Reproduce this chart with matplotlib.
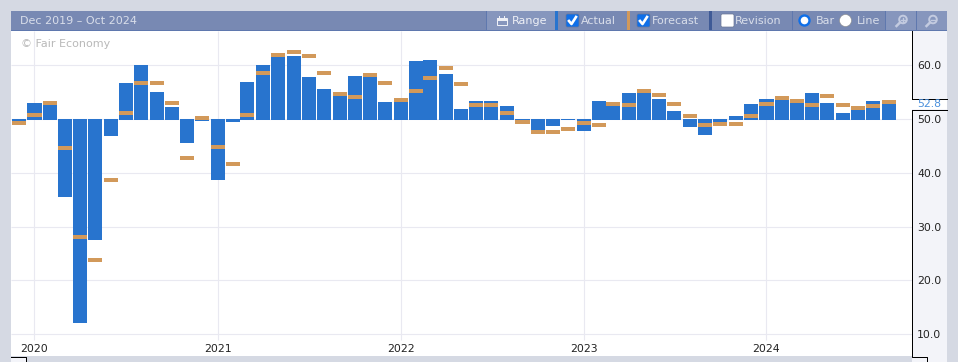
import matplotlib
matplotlib.use("Agg")
import matplotlib.pyplot as plt
import matplotlib.patches as mpatches
import pandas as pd

# Monthly values, Dec 2019 - Sep 2024
months = pd.date_range("2019-12-01", periods=58, freq="MS")
actual = [
    49.3,
    53.0, 52.7, 35.5, 12.1, 27.5, 46.8, 56.7, 60.0, 55.0, 52.2, 45.5, 49.6,
    38.7, 49.5, 56.9, 60.0, 61.5, 61.7, 57.8, 55.6, 54.3, 58.0, 57.8, 53.2,
    53.2, 60.8, 61.0, 58.4, 51.9, 53.3, 53.3, 52.4, 49.7, 47.8, 48.7, 49.8,
    47.8, 53.3, 52.4, 54.8, 54.8, 53.7, 51.5, 48.5, 47.0, 49.2, 50.6, 52.8,
    53.7, 53.5, 53.0, 54.8, 53.0, 51.1, 51.7, 53.3, 52.8,
]
forecast = [
    49.25,
    50.7, 53.0, 44.6, 28.1, 23.8, 38.7, 51.1, 56.7, 56.7, 53.0, 42.8, 50.2,
    44.8, 41.7, 50.7, 58.5, 61.9, 62.5, 61.7, 58.5, 54.6, 54.1, 58.2, 56.7,
    53.5, 55.2, 57.6, 59.5, 56.5, 52.6, 52.6, 51.1, 49.4, 47.6, 47.6, 48.1,
    49.3, 48.9, 52.8, 52.6, 55.2, 54.5, 52.8, 50.6, 48.9, 49.1, 49.1, 50.6,
    52.8, 53.9, 53.3, 52.6, 54.3, 52.6, 52.0, 52.4, 53.2,
]
y_ticks = [10, 20, 30, 40, 50, 60]
years = [2020, 2021, 2022, 2023, 2024]
last_value = "52.8"
date_range_label = "Dec 2019 \u2013 Oct 2024"

BLUE = "#2874ce"
ORANGE = "#d2995a"
GRID = "#e9e9f1"
BACK = "#d5d9e3"
PANEL = "#f3f4f9"
HEADER = "#7889b3"
HEADER_LIGHT = "#8696bd"
HEADER_TEXT = "#d9deea"

W, H = 958, 362
PX_PER_UNIT = 5.38
PX_PER_DAY = 732 / 1461
PT = 0.72  # one pixel in points


def y_at(px):
    return 50 - (px - 119) / PX_PER_UNIT


fig = plt.figure(figsize=(W / 100, H / 100), dpi=100, facecolor=BACK)

# page furniture underneath the plot
under = fig.add_axes([0, 0, 1, 1], zorder=0)
under.set_xlim(0, W)
under.set_ylim(H, 0)
under.axis("off")
under.add_patch(mpatches.Rectangle((912, 31), 35, 331, fc=PANEL, ec="none"))

# plot area
ax = fig.add_axes([11 / W, (H - 356) / H, (912 - 11) / W, (356 - 31) / H], zorder=1)
ax.set_facecolor("white")
jan_2020 = pd.Timestamp("2020-01-01")
ax.set_xlim(jan_2020 - pd.Timedelta(days=23.5 / PX_PER_DAY),
            jan_2020 + pd.Timedelta(days=(912 - 34.5) / PX_PER_DAY))
ax.set_ylim(y_at(356), y_at(31))
for side in ax.spines:
    ax.spines[side].set_visible(False)

year_dates = [pd.Timestamp(f"{y}-01-01") for y in years]
ax.hlines(y_ticks, ax.get_xlim()[0], ax.get_xlim()[1], color=GRID, lw=PT * 1.1, zorder=1)
ax.vlines(year_dates, y_at(340), y_at(31), color=GRID, lw=PT * 1.1, zorder=1)

bar_days = 28
for m, a, f in zip(months, actual, forecast):
    # positive bars sit a pixel under the 50 line
    bottom = 49.85 if a >= 50 else 50.0
    ax.bar(m, a - bottom, bottom=bottom, width=bar_days, color=BLUE, zorder=2)
    ax.bar(m, 0.74, bottom=f - 0.37, width=bar_days, color=ORANGE, zorder=3)

ax.set_xticks([])
ax.yaxis.tick_right()
ax.set_yticks(y_ticks, [f"{v:.1f}" for v in y_ticks])
ax.tick_params(axis="y", length=0, pad=3.6, labelsize=7.8, labelcolor="#222222")

for d, y in zip(year_dates, years):
    ax.text(d, y_at(349.5), str(y), ha="center", va="center", fontsize=7.8, color="#222222")
ax.text(21 / W, (H - 44) / H, "\u00a9 Fair Economy", transform=fig.transFigure,
        fontsize=8, color="#b9b9b9", va="center", ha="left")

# header, right hand labels and bottom strip, in pixel coordinates
top = fig.add_axes([0, 0, 1, 1], zorder=2)
top.set_xlim(0, W)
top.set_ylim(H, 0)
top.axis("off")
top.patch.set_alpha(0)


def rect(x0, y0, x1, y1, color):
    top.add_patch(mpatches.Rectangle((x0, y0), x1 - x0, y1 - y0, fc=color, ec="none"))


def label(x, text, color=HEADER_TEXT):
    top.text(x, 21, text, fontsize=8, color=color, va="center", ha="left")


def checkbox(x, checked):
    face = "#0f6fe8" if checked else "white"
    top.add_patch(mpatches.FancyBboxPatch((x + 1.5, 15.5), 10, 10,
                                          boxstyle="round,pad=1.5", fc=face, ec="#6b7796", lw=0.5))
    if checked:
        top.plot([x + 3, x + 5.5, x + 10], [21, 24, 17], color="white", lw=1.9)


rect(11, 11, 947, 30, HEADER)
rect(11, 30, 947, 31, "#5f78ae")
rect(487, 11, 555, 30, HEADER_LIGHT)
rect(555, 11, 558, 30, BLUE)
rect(627, 11, 630, 30, ORANGE)
rect(709, 11, 712, 30, "#3f5a96")
rect(886, 11, 947, 30, HEADER_LIGHT)
for x in [486, 792, 885, 916]:
    rect(x, 11, x + 1, 30, "#5f78ae")
label(20, date_range_label)
label(512, "Range", "#eef0f6")
label(581, "Actual")
label(652, "Forecast")
label(735, "Revision")
label(816, "Bar")
label(857, "Line")
checkbox(566, True)
checkbox(637, True)
checkbox(721, False)

# calendar icon
top.add_patch(mpatches.Rectangle((497, 18), 10, 7, fc="none", ec="#eef0f6", lw=PT))
rect(497, 18, 507, 21, "#eef0f6")
for x in [499, 504]:
    rect(x, 16, x + 1, 18, "#eef0f6")
# radio buttons
top.add_patch(mpatches.Circle((804.5, 20.5), 5, fc="white", ec="#0f6fe8", lw=1.7))
top.add_patch(mpatches.Circle((845.5, 20.5), 6, fc="white", ec="#8a8a8a", lw=0.4))
# zoom icons
for cx in [903, 933]:
    top.add_patch(mpatches.Circle((cx, 19.5), 3.8, fc="none", ec="#c3cbe0", lw=1.4))
    top.plot([cx - 3, cx - 6.5], [22.5, 26], color="#c3cbe0", lw=1.8)
    top.plot([cx - 2, cx + 2], [19.5, 19.5], color="#c3cbe0", lw=1)
top.plot([903, 903], [17.5, 21.5], color="#c3cbe0", lw=1)

# right axis line, broken around the last value
top.plot([912.5, 912.5], [31, 98.5], color="black", lw=PT)
top.plot([912.5, 912.5, 927.5, 927.5], [109.5, 356.5, 356.5, H], color="black", lw=PT)
rect(912, 99, 947, 109, "white")
top.plot([912.5, 947], [98.5, 98.5], color="black", lw=PT)
top.plot([912.5, 947], [109.5, 109.5], color="black", lw=PT)
top.text(917, 104, last_value, fontsize=7.8, color="#4a8fdc", va="center", ha="left")

# bottom strip
rect(927.5, 357, 947, H, PANEL)
rect(11, 357, 26, H, PANEL)
top.plot([11, 26.5, 26.5], [356.5, 356.5, H], color="black", lw=PT)

fig.savefig("out.png", dpi=100)
